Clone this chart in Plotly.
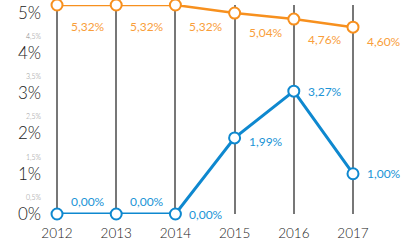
import plotly.graph_objects as go

years = [2012, 2013, 2014, 2015, 2016, 2017]
orange_vals = [5.19, 5.19, 5.19, 4.99, 4.84, 4.64]
orange_labels = ["5,32%", "5,32%", "5,32%", "5,04%", "4,76%", "4,60%"]
blue_vals = [0.0, 0.0, 0.0, 1.89, 3.05, 1.0]
blue_labels = ["0,00%", "0,00%", "0,00%", "1,99%", "3,27%", "1,00%"]
ytick_vals = [0, 0.5, 1, 1.5, 2, 2.5, 3, 3.5, 4, 4.5, 5]
ytick_major = ["0%", "1%", "2%", "3%", "4%", "5%"]
ytick_minor = ["0,5%", "1,5%", "2,5%", "3,5%", "4,5%"]

ORANGE = "#F7901E"
ORANGE_TXT = "#F99E3A"
BLUE = "#0E88CF"
BLUE_TXT = "#2094D6"

ticktext = []
mi = 0
ma = 0
for i, v in enumerate(ytick_vals):
    if i % 2 == 0:
        ticktext.append(ytick_major[ma]); ma += 1
    else:
        ticktext.append('<span style="font-size:7px;color:#8a8a8a">' + ytick_minor[mi] + '</span>'); mi += 1

fig = go.Figure()
fig.add_trace(go.Scatter(x=years, y=orange_vals, mode="lines+markers",
                         line=dict(color=ORANGE, width=2.5),
                         marker=dict(size=11, color="white", line=dict(color=ORANGE, width=2)),
                         cliponaxis=False, hoverinfo="skip"))
fig.add_trace(go.Scatter(x=years, y=blue_vals, mode="lines+markers",
                         line=dict(color=BLUE, width=3),
                         marker=dict(size=11, color="white", line=dict(color=BLUE, width=2)),
                         cliponaxis=False, hoverinfo="skip"))

blue_shift = [13, 13, 0, -4, 0, 0]
orange_shift = [-21, -21, -21, -19, -20, -14]
for x, y, t, s in zip(years, orange_vals, orange_labels, orange_shift):
    fig.add_annotation(x=x, y=y, text=t, showarrow=False, xanchor="left", yanchor="middle",
                       xshift=12, yshift=s, font=dict(size=12, color=ORANGE_TXT, family="Lato"))
for x, y, t, s in zip(years, blue_vals, blue_labels, blue_shift):
    fig.add_annotation(x=x, y=y, text=t, showarrow=False, xanchor="left", yanchor="middle",
                       xshift=12, yshift=s, font=dict(size=12, color=BLUE_TXT, family="Lato"))

fig.update_layout(
    width=410, height=240,
    margin=dict(l=45, r=20, t=5, b=26),
    paper_bgcolor="white", plot_bgcolor="white",
    showlegend=False,
    font=dict(family="Lato", color="#333333"),
    xaxis=dict(range=[2011.797, 2017.625], tickvals=years, ticktext=[str(y) for y in years],
               showgrid=True, gridcolor="#777777", gridwidth=1.5, zeroline=False,
               showline=False, ticks="", tickfont=dict(size=13.5, color="#222222", weight=300),
               ticklabelstandoff=9, automargin=False),
    yaxis=dict(range=[0, 5.19], tickvals=ytick_vals, ticktext=ticktext,
               showgrid=False, zeroline=False, showline=False, ticks="",
               tickfont=dict(size=17, color="#222222", weight=300), ticklabelstandoff=3,
               automargin=False),
)

fig.write_html("out.html")
